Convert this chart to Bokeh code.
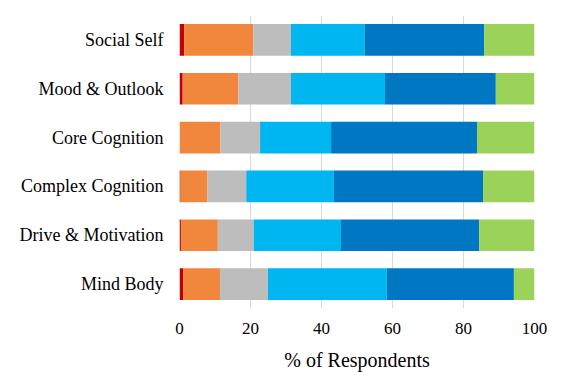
from bokeh.plotting import figure
from bokeh.models import ColumnDataSource, Range1d, FixedTicker
from bokeh.embed import file_html
from bokeh.resources import INLINE

categories = ["Mind Body", "Drive & Motivation", "Complex Cognition",
              "Core Cognition", "Mood & Outlook", "Social Self"]
seg1 = [1.0, 0.4, 0.3, 0.0, 0.9, 1.3]
seg2 = [10.4, 10.4, 7.6, 11.5, 15.7, 19.5]
seg3 = [13.5, 10.1, 10.9, 11.2, 14.8, 10.6]
seg4 = [33.5, 24.6, 24.7, 20.0, 26.5, 20.7]
seg5 = [35.8, 38.9, 42.0, 41.1, 31.2, 33.7]
seg6 = [5.8, 15.6, 14.5, 16.2, 10.9, 14.2]
x_ticks = [0, 20, 40, 60, 80, 100]

series = ["s1", "s2", "s3", "s4", "s5", "s6"]
colors = ["#C00000", "#F0873D", "#BDBDBD", "#00B6F0", "#0077C2", "#9BD35A"]

source = ColumnDataSource(dict(cat=categories, s1=seg1, s2=seg2, s3=seg3,
                               s4=seg4, s5=seg5, s6=seg6))

p = figure(y_range=categories, x_range=Range1d(0, 100), width=562, height=375,
           output_backend="svg", toolbar_location=None,
           min_border_left=179, min_border_right=28, min_border_top=15,
           min_border_bottom=67)
p.hbar_stack(series, y="cat", height=0.65, color=colors, source=source,
             line_color=None)

FONT = "'Liberation Serif', 'Times New Roman', serif"
p.outline_line_color = None
p.ygrid.grid_line_color = None
p.xgrid.grid_line_color = "#D9D9D9"
p.xgrid.grid_line_width = 1
p.xaxis.ticker = FixedTicker(ticks=x_ticks)
p.xaxis.axis_label = "% of Respondents"

for ax in (p.xaxis[0], p.yaxis[0]):
    ax.axis_line_color = None
    ax.major_tick_line_color = None
    ax.minor_tick_line_color = None
    ax.major_tick_out = 0
    ax.major_tick_in = 0
    ax.major_label_text_font = FONT
    ax.major_label_text_color = "#000000"

p.yaxis.major_label_text_font_size = "18px"
p.xaxis.major_label_text_font_size = "17px"
p.yaxis.major_label_standoff = 16
p.xaxis.major_label_standoff = 14
p.xaxis.axis_label_text_font = FONT
p.xaxis.axis_label_text_font_size = "20px"
p.xaxis.axis_label_text_font_style = "normal"
p.xaxis.axis_label_text_color = "#000000"
p.xaxis.axis_label_standoff = 12

open("out.html", "w").write(file_html(p, INLINE))
